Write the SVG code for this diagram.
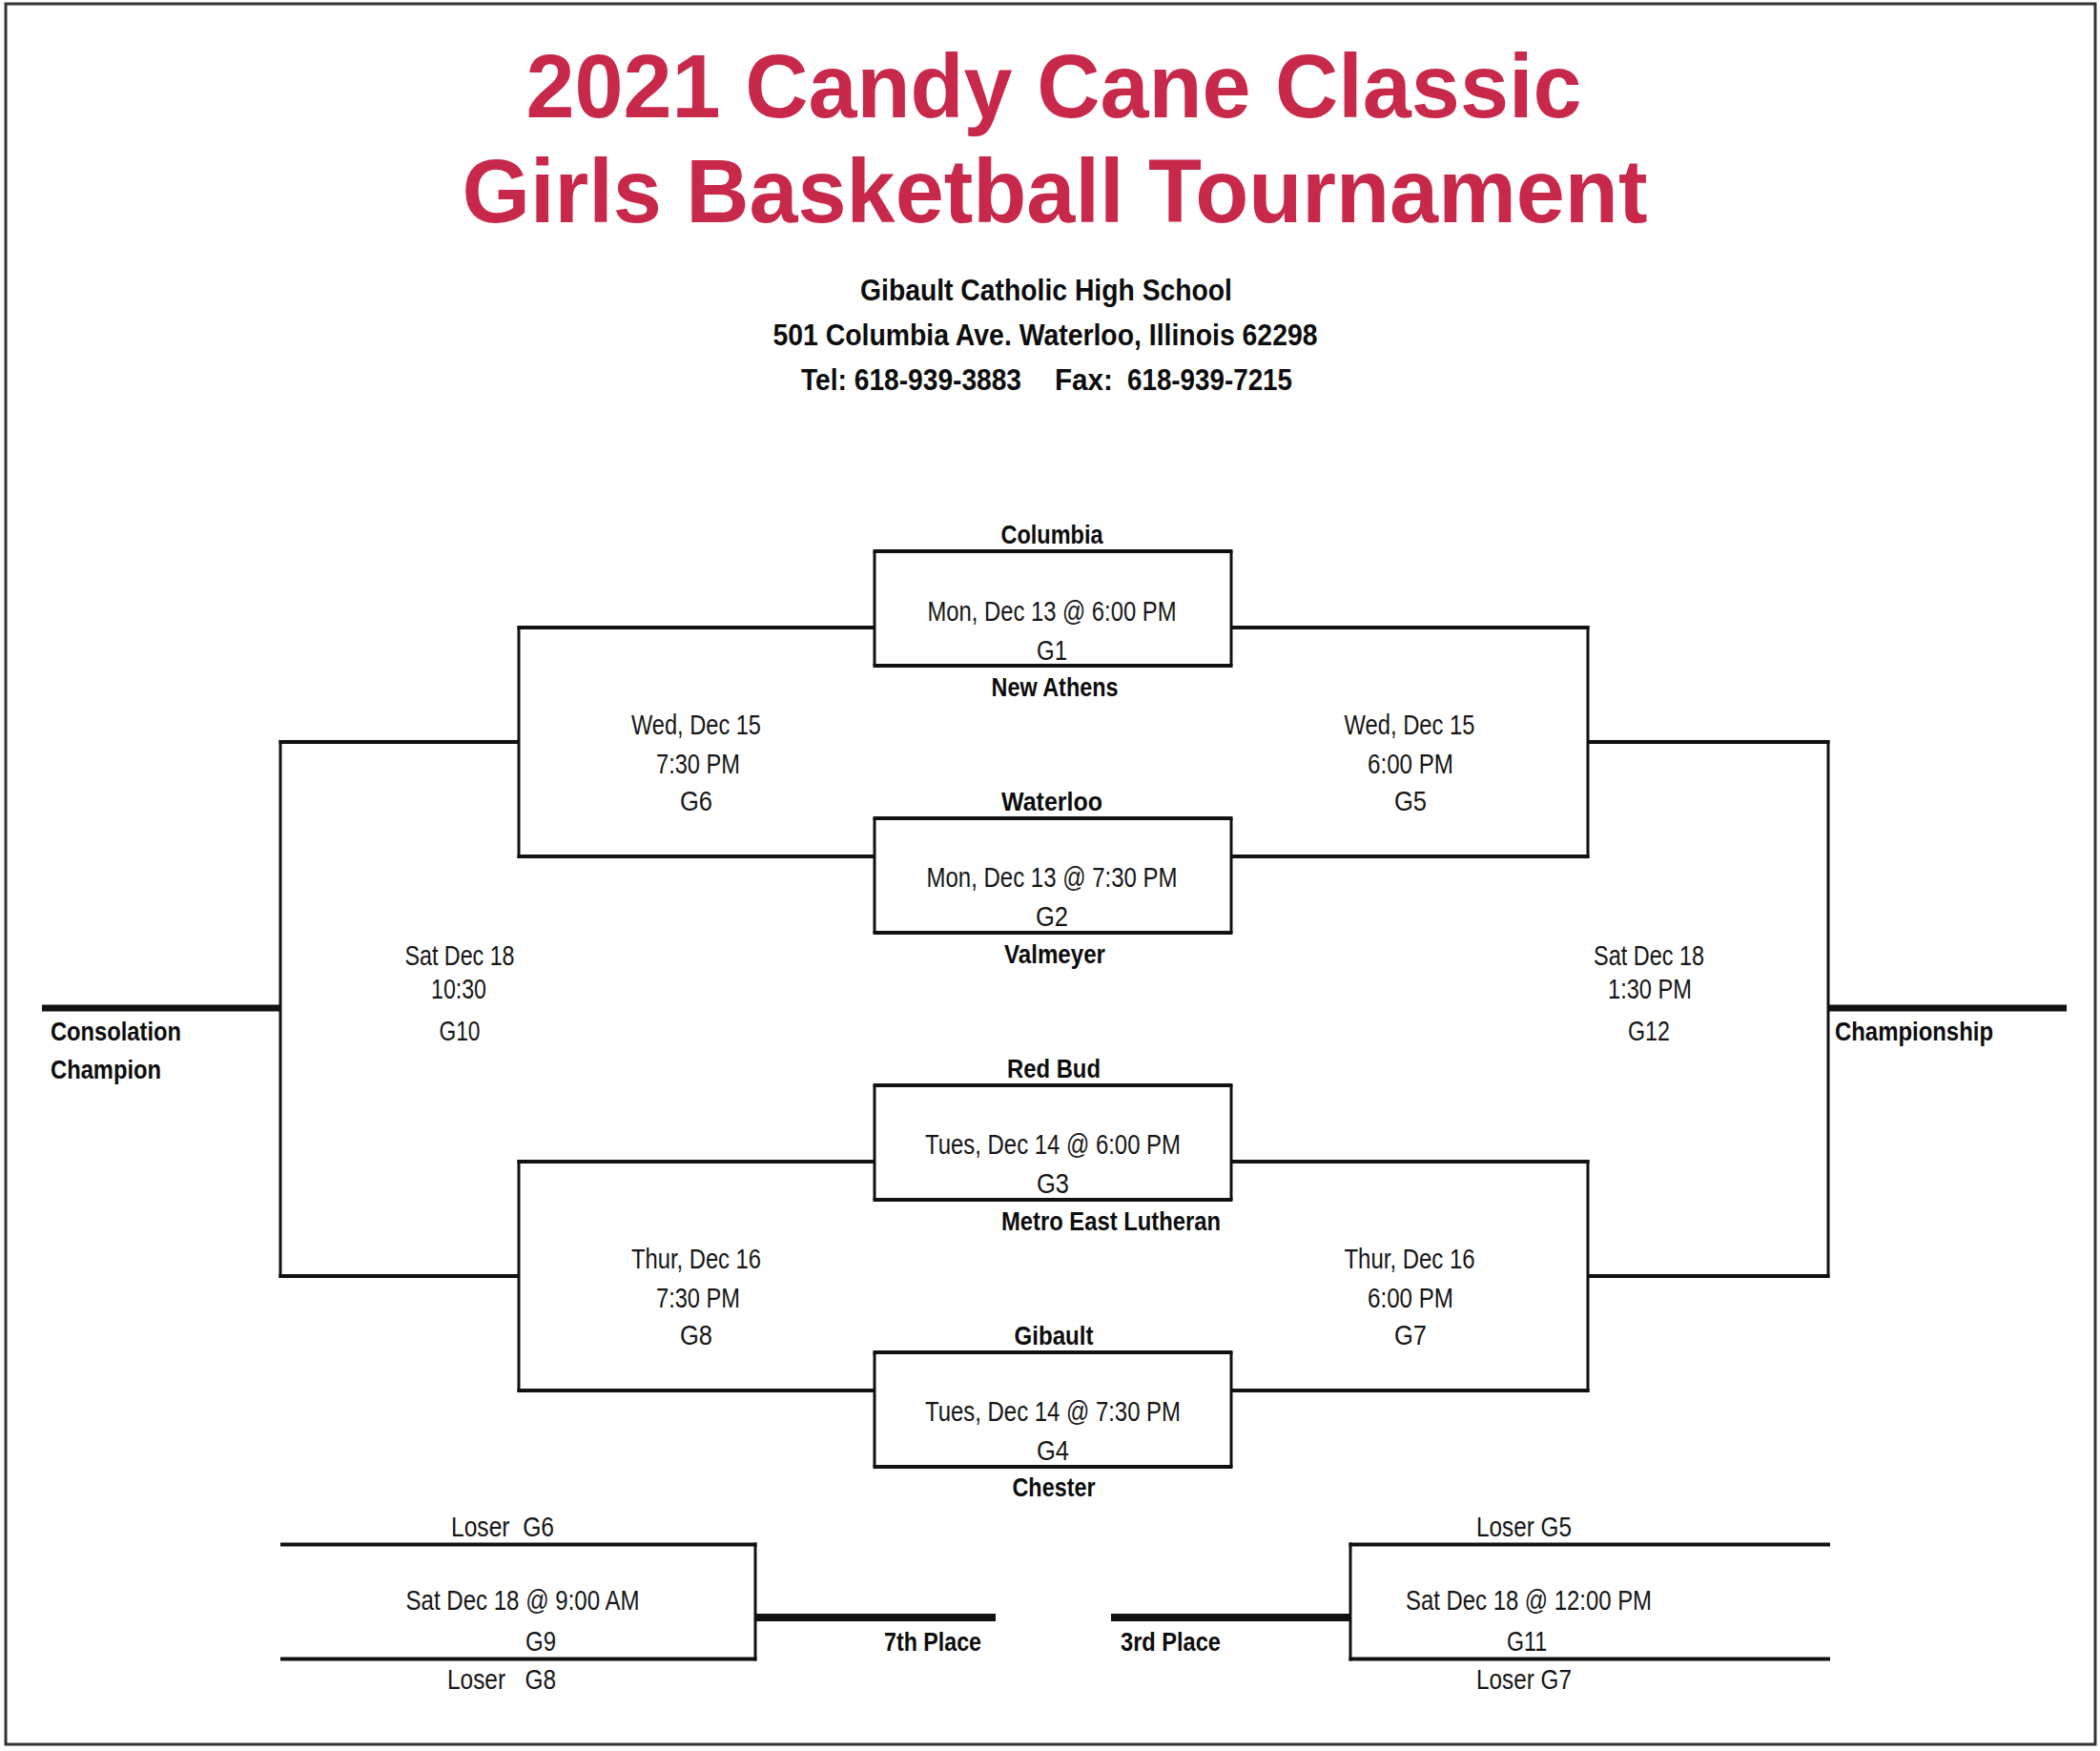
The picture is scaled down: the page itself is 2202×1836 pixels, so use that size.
<svg xmlns="http://www.w3.org/2000/svg" width="2202" height="1836" viewBox="0 0 2202 1836">
<style>
.t{font-family:"Liberation Sans",Arial,Helvetica,sans-serif;fill:#161616;text-anchor:middle;}
.r{font-size:29px;font-weight:normal;}
.b{font-size:27px;font-weight:bold;fill:#0d0d0d;}
.s{font-size:31px;font-weight:bold;fill:#0d0d0d;}
.title{font-family:"Liberation Sans",Arial,Helvetica,sans-serif;font-weight:bold;fill:#C8284A;text-anchor:middle;}
.l{text-anchor:start;}
.pre{white-space:pre;}
.h{stroke:#111;stroke-width:4;fill:none;}
.v{stroke:#111;stroke-width:3;fill:none;}
.k{stroke:#111;stroke-width:8;fill:none;}
</style>
<rect x="0" y="0" width="2202" height="1836" fill="#ffffff"/>
<rect x="6" y="4" width="2191" height="1825" fill="none" stroke="#333" stroke-width="3"/>

<g id="header">
<text class="title" x="1105" y="123" font-size="95" textLength="1107" lengthAdjust="spacingAndGlyphs">2021 Candy Cane Classic</text>
<text class="title" x="1106" y="233" font-size="94" textLength="1243" lengthAdjust="spacingAndGlyphs">Girls Basketball Tournament</text>
<text class="t s" x="1097" y="315" textLength="390" lengthAdjust="spacingAndGlyphs">Gibault Catholic High School</text>
<text class="t s" x="1096" y="362" textLength="571" lengthAdjust="spacingAndGlyphs">501 Columbia Ave. Waterloo, Illinois 62298</text>
<text class="t s l" x="840" y="409" textLength="231" lengthAdjust="spacingAndGlyphs">Tel: 618-939-3883</text>
<text class="t s l" x="1106" y="409" textLength="61" lengthAdjust="spacingAndGlyphs">Fax:</text>
<text class="t s l" x="1182" y="409" textLength="173" lengthAdjust="spacingAndGlyphs">618-939-7215</text>
</g>

<g id="connectors">
<line class="h" x1="542.5" y1="658" x2="917" y2="658"/>
<line class="h" x1="542.5" y1="898" x2="917" y2="898"/>
<line class="v" x1="544" y1="656" x2="544" y2="900"/>
<line class="h" x1="292.5" y1="778" x2="544" y2="778"/>
<line class="h" x1="1291" y1="658" x2="1666.5" y2="658"/>
<line class="h" x1="1291" y1="898" x2="1666.5" y2="898"/>
<line class="v" x1="1665" y1="656" x2="1665" y2="900"/>
<line class="h" x1="1665" y1="778" x2="1918.5" y2="778"/>
<line class="h" x1="542.5" y1="1218" x2="917" y2="1218"/>
<line class="h" x1="542.5" y1="1458" x2="917" y2="1458"/>
<line class="v" x1="544" y1="1216" x2="544" y2="1460"/>
<line class="h" x1="292.5" y1="1338" x2="544" y2="1338"/>
<line class="h" x1="1291" y1="1218" x2="1666.5" y2="1218"/>
<line class="h" x1="1291" y1="1458" x2="1666.5" y2="1458"/>
<line class="v" x1="1665" y1="1216" x2="1665" y2="1460"/>
<line class="h" x1="1665" y1="1338" x2="1918.5" y2="1338"/>
<line class="v" x1="294" y1="776" x2="294" y2="1340"/>
<line class="v" x1="1917" y1="776" x2="1917" y2="1340"/>
<line stroke="#111" stroke-width="7" x1="44" y1="1057" x2="294" y2="1057"/>
<line stroke="#111" stroke-width="7" x1="1917" y1="1057" x2="2167" y2="1057"/>
<line class="h" x1="294" y1="1619.5" x2="793.5" y2="1619.5"/>
<line class="h" x1="294" y1="1739.5" x2="793.5" y2="1739.5"/>
<line class="v" x1="792" y1="1617.5" x2="792" y2="1741.5"/>
<line class="k" x1="792" y1="1696" x2="1044" y2="1696"/>
<line class="h" x1="1414.5" y1="1619.5" x2="1919" y2="1619.5"/>
<line class="h" x1="1414.5" y1="1739.5" x2="1919" y2="1739.5"/>
<line class="v" x1="1416" y1="1617.5" x2="1416" y2="1741.5"/>
<line class="k" x1="1165" y1="1696" x2="1416" y2="1696"/>
</g>

<g id="g1">
<line class="h" x1="915.5" y1="578" x2="1292.5" y2="578"/>
<line class="h" x1="915.5" y1="698" x2="1292.5" y2="698"/>
<line class="v" x1="917" y1="578" x2="917" y2="698"/>
<line class="v" x1="1291" y1="578" x2="1291" y2="698"/>
<text class="t b" x="1103" y="570" textLength="107" lengthAdjust="spacingAndGlyphs">Columbia</text>
<text class="t r" x="1103" y="651" textLength="261" lengthAdjust="spacingAndGlyphs">Mon, Dec 13 @ 6:00 PM</text>
<text class="t r" x="1103" y="692" textLength="32" lengthAdjust="spacingAndGlyphs">G1</text>
<text class="t b" x="1106" y="730" textLength="133" lengthAdjust="spacingAndGlyphs">New Athens</text>
</g>

<g id="g2">
<line class="h" x1="915.5" y1="858" x2="1292.5" y2="858"/>
<line class="h" x1="915.5" y1="978" x2="1292.5" y2="978"/>
<line class="v" x1="917" y1="858" x2="917" y2="978"/>
<line class="v" x1="1291" y1="858" x2="1291" y2="978"/>
<text class="t b" x="1103" y="850" textLength="106" lengthAdjust="spacingAndGlyphs">Waterloo</text>
<text class="t r" x="1103" y="930" textLength="263" lengthAdjust="spacingAndGlyphs">Mon, Dec 13 @ 7:30 PM</text>
<text class="t r" x="1103" y="971" textLength="34" lengthAdjust="spacingAndGlyphs">G2</text>
<text class="t b" x="1106" y="1010" textLength="106" lengthAdjust="spacingAndGlyphs">Valmeyer</text>
</g>

<g id="g3">
<line class="h" x1="915.5" y1="1138" x2="1292.5" y2="1138"/>
<line class="h" x1="915.5" y1="1258" x2="1292.5" y2="1258"/>
<line class="v" x1="917" y1="1138" x2="917" y2="1258"/>
<line class="v" x1="1291" y1="1138" x2="1291" y2="1258"/>
<text class="t b" x="1105" y="1130" textLength="98" lengthAdjust="spacingAndGlyphs">Red Bud</text>
<text class="t r" x="1104" y="1210" textLength="268" lengthAdjust="spacingAndGlyphs">Tues, Dec 14 @ 6:00 PM</text>
<text class="t r" x="1104" y="1251" textLength="34" lengthAdjust="spacingAndGlyphs">G3</text>
<text class="t b" x="1165" y="1290" textLength="230" lengthAdjust="spacingAndGlyphs">Metro East Lutheran</text>
</g>

<g id="g4">
<line class="h" x1="915.5" y1="1418" x2="1292.5" y2="1418"/>
<line class="h" x1="915.5" y1="1538" x2="1292.5" y2="1538"/>
<line class="v" x1="917" y1="1418" x2="917" y2="1538"/>
<line class="v" x1="1291" y1="1418" x2="1291" y2="1538"/>
<text class="t b" x="1105" y="1410" textLength="83" lengthAdjust="spacingAndGlyphs">Gibault</text>
<text class="t r" x="1104" y="1490" textLength="268" lengthAdjust="spacingAndGlyphs">Tues, Dec 14 @ 7:30 PM</text>
<text class="t r" x="1104" y="1531" textLength="34" lengthAdjust="spacingAndGlyphs">G4</text>
<text class="t b" x="1105" y="1569" textLength="87" lengthAdjust="spacingAndGlyphs">Chester</text>
</g>

<g id="g6">
<text class="t r" x="730" y="770" textLength="136" lengthAdjust="spacingAndGlyphs">Wed, Dec 15</text>
<text class="t r" x="732" y="811" textLength="88" lengthAdjust="spacingAndGlyphs">7:30 PM</text>
<text class="t r" x="730" y="850" textLength="34" lengthAdjust="spacingAndGlyphs">G6</text>
</g>

<g id="g5">
<text class="t r" x="1478" y="770" textLength="137" lengthAdjust="spacingAndGlyphs">Wed, Dec 15</text>
<text class="t r" x="1479" y="811" textLength="90" lengthAdjust="spacingAndGlyphs">6:00 PM</text>
<text class="t r" x="1479" y="850" textLength="34" lengthAdjust="spacingAndGlyphs">G5</text>
</g>

<g id="g8">
<text class="t r" x="730" y="1330" textLength="136" lengthAdjust="spacingAndGlyphs">Thur, Dec 16</text>
<text class="t r" x="732" y="1371" textLength="88" lengthAdjust="spacingAndGlyphs">7:30 PM</text>
<text class="t r" x="730" y="1410" textLength="34" lengthAdjust="spacingAndGlyphs">G8</text>
</g>

<g id="g7">
<text class="t r" x="1478" y="1330" textLength="137" lengthAdjust="spacingAndGlyphs">Thur, Dec 16</text>
<text class="t r" x="1479" y="1371" textLength="90" lengthAdjust="spacingAndGlyphs">6:00 PM</text>
<text class="t r" x="1479" y="1410" textLength="34" lengthAdjust="spacingAndGlyphs">G7</text>
</g>

<g id="g10">
<text class="t r" x="482" y="1012" textLength="115" lengthAdjust="spacingAndGlyphs">Sat Dec 18</text>
<text class="t r" x="481" y="1047" textLength="58" lengthAdjust="spacingAndGlyphs">10:30</text>
<text class="t r" x="482" y="1091" textLength="43" lengthAdjust="spacingAndGlyphs">G10</text>
<text class="t b l" x="53" y="1091" textLength="137" lengthAdjust="spacingAndGlyphs">Consolation</text>
<text class="t b l" x="53" y="1131" textLength="116" lengthAdjust="spacingAndGlyphs">Champion</text>
</g>

<g id="g12">
<text class="t r" x="1729" y="1012" textLength="116" lengthAdjust="spacingAndGlyphs">Sat Dec 18</text>
<text class="t r" x="1730" y="1047" textLength="88" lengthAdjust="spacingAndGlyphs">1:30 PM</text>
<text class="t r" x="1729" y="1091" textLength="44" lengthAdjust="spacingAndGlyphs">G12</text>
<text class="t b l" x="1924" y="1091" textLength="166" lengthAdjust="spacingAndGlyphs">Championship</text>
</g>

<g id="g9">
<text class="t r pre" x="527" y="1611" textLength="108" lengthAdjust="spacingAndGlyphs" xml:space="preserve">Loser  G6</text>
<text class="t r" x="548" y="1688" textLength="245" lengthAdjust="spacingAndGlyphs">Sat Dec 18 @ 9:00 AM</text>
<text class="t r" x="567" y="1731" textLength="32" lengthAdjust="spacingAndGlyphs">G9</text>
<text class="t r pre" x="526" y="1771" textLength="114" lengthAdjust="spacingAndGlyphs" xml:space="preserve">Loser   G8</text>
<text class="t b l" x="927" y="1731" textLength="102" lengthAdjust="spacingAndGlyphs">7th Place</text>
</g>

<g id="g11">
<text class="t r" x="1598" y="1611" textLength="100" lengthAdjust="spacingAndGlyphs">Loser G5</text>
<text class="t r" x="1603" y="1688" textLength="258" lengthAdjust="spacingAndGlyphs">Sat Dec 18 @ 12:00 PM</text>
<text class="t r" x="1601" y="1731" textLength="42" lengthAdjust="spacingAndGlyphs">G11</text>
<text class="t r" x="1598" y="1771" textLength="100" lengthAdjust="spacingAndGlyphs">Loser G7</text>
<text class="t b l" x="1175" y="1731" textLength="105" lengthAdjust="spacingAndGlyphs">3rd Place</text>
</g>
</svg>
